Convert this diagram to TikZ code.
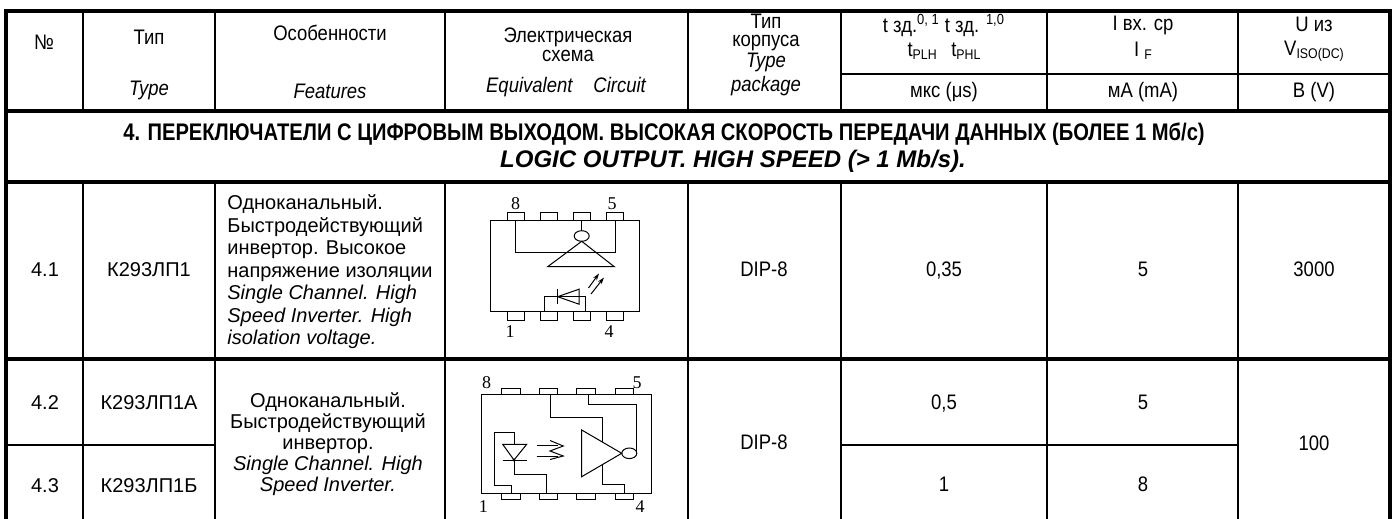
\documentclass[tikz,border=0pt]{standalone}
\usepackage{fontspec}
\setmainfont{Liberation Sans}
\newfontfamily\narrowfont{Liberation Sans}[FakeStretch=0.88]
\newfontfamily\titlefont{Liberation Sans}[FakeStretch=0.84]
\newfontfamily\pinfont{Liberation Serif}
\usetikzlibrary{arrows.meta}
\newcommand{\lsub}[1]{\raisebox{-0.3ex}{\fontsize{7}{7}\selectfont #1}}

\begin{document}
\begin{tikzpicture}[x=0.5pt,y=-0.5pt,>={Stealth[length=3.5pt,width=2.2pt]}]
  \tikzstyle{thin rule}=[line width=0.9pt]
  \tikzstyle{thick rule}=[line width=1.8pt]
  \tikzstyle{cell}=[inner sep=0pt,font=\fontsize{10}{10}\selectfont]
  \tikzstyle{head}=[inner sep=0pt,font=\narrowfont\fontsize{10.5}{10.5}\selectfont]
  \tikzstyle{wire}=[line width=0.5pt]
  \tikzstyle{pin label}=[inner sep=0pt,font=\pinfont\fontsize{9}{9}\selectfont]
  \useasboundingbox (0,0) rectangle (1394,519);

  % Grid
  \foreach \cx in {83,215,445,688,841,1047,1238} {
    \draw[thin rule] (\cx,11) -- (\cx,111);
    \draw[thin rule] (\cx,182) -- (\cx,519);
  }
  \draw[thin rule] (841,74) -- (1390,74);
  \draw[thin rule] (6,445) -- (215,445);
  \draw[thin rule] (841,445) -- (1238,445);
  \foreach \ry in {111,182,359}
    \draw[thick rule] (6,\ry) -- (1390,\ry);
  \draw[thick rule] (6,519) -- (6,11) -- (1390,11) -- (1390,519);

  % Header
  \node[head] (hNo) at (44,42) {№};
  \node[head] (hType) at (149,37) {Тип};
  \node[head] (hTypeEn) at (149,90) {\itshape Type};
  \node[head] (hFeat) at (330,33) {Особенности};
  \node[head] (hFeatEn) at (330,91) {\itshape Features};
  \node[head] (hCirc) at (568,37) {Электрическая};
  \node[head] (hCircB) at (568,56) {схема};
  \node[head] (hCircEn) at (566,87) {\itshape Equivalent\quad Circuit};
  \node[head,anchor=base] (hPkg) at (766,29) {Тип};
  \node[head,anchor=base] (hPkgB) at (766,47) {корпуса};
  \node[head,anchor=base] (hPkgEn) at (766,68) {\itshape Type};
  \node[head,anchor=base] (hPkgEnB) at (766,92) {\itshape package};
  \node[head] (hDelay) at (944,25) {t зд.\textsuperscript{0, 1} t зд. \textsuperscript{1,0}};
  \node[head] (hDelayEn) at (944,51) {t\lsub{PLH}\hspace{0.7em}t\lsub{PHL}};
  \node[head] (hDelayU) at (944,92) {мкс (μs)};
  \node[head] (hCur) at (1143,25) {I вх. ср};
  \node[head] (hCurEn) at (1143,51) {I \lsub{F}};
  \node[head] (hCurU) at (1143,92) {мА (mA)};
  \node[head] (hIso) at (1314,24) {U из};
  \node[head] (hIsoEn) at (1314,51) {V\lsub{ISO(DC)}};
  \node[head] (hIsoU) at (1314,92) {В (V)};

  % Section
  \node[head,font=\titlefont\fontsize{12}{12}\selectfont\bfseries] (secRu) at (664,134)
    {4. ПЕРЕКЛЮЧАТЕЛИ С ЦИФРОВЫМ ВЫХОДОМ. ВЫСОКАЯ СКОРОСТЬ ПЕРЕДАЧИ ДАННЫХ (БОЛЕЕ 1 Мб/с)};
  \node[head,font=\fontsize{12}{12}\selectfont\bfseries\itshape] (secEn) at (733,161)
    {LOGIC OUTPUT. HIGH SPEED (> 1 Mb/s).};

  % Row 4.1
  \node[cell,anchor=base] (n41) at (45,277) {4.1};
  \node[cell,anchor=base] (t41) at (149,277) {К293ЛП1};
  \node[cell,anchor=west,align=left,font=\fontsize{10}{11.25}\selectfont] (f41) at (227,272)
    {Одноканальный.\\Быстродействующий\\инвертор. Высокое\\напряжение изоляции\\
     \itshape Single Channel. High\\\itshape Speed Inverter. High\\\itshape isolation voltage.};
  \node[head,anchor=base] (k41) at (764,277) {DIP-8};
  \node[head,anchor=base] (d41) at (944,277) {0,35};
  \node[head,anchor=base] (i41) at (1143,277) {5};
  \node[head,anchor=base] (u41) at (1314,277) {3000};

  % Rows 4.2 and 4.3
  \node[cell,anchor=base] (n42) at (45,409) {4.2};
  \node[cell,anchor=base] (t42) at (149,409) {К293ЛП1А};
  \node[cell,anchor=base] (n43) at (45,492) {4.3};
  \node[cell,anchor=base] (t43) at (149,492) {К293ЛП1Б};
  \node[cell,align=center,font=\fontsize{10}{10.5}\selectfont] (f42) at (328,444)
    {Одноканальный.\\Быстродействующий\\инвертор.\\
     \itshape Single Channel. High\\\itshape Speed Inverter.};
  \node[head,anchor=base] (k42) at (764,449) {DIP-8};
  \node[head,anchor=base] (d42) at (944,409) {0,5};
  \node[head,anchor=base] (i42) at (1143,409) {5};
  \node[head,anchor=base] (d43) at (944,491) {1};
  \node[head,anchor=base] (i43) at (1143,491) {8};
  \node[head,anchor=base] (u42) at (1314,450) {100};

  % Circuit 4.1
  \draw[wire] (490.7,221) rectangle (639,311);
  \foreach \px in {515.7,548.7,581.7,614.7} {
    \draw[wire] ({\px-8.3},213) rectangle ({\px+8.3},221);
    \draw[wire] ({\px-8.3},311) rectangle ({\px+8.3},320);
  }
  \node[pin label] (a8) at (515.7,204) {8};
  \node[pin label] (a5) at (612,204) {5};
  \node[pin label] (a1) at (510,332) {1};
  \node[pin label] (a4) at (609,332) {4};
  \draw[wire] (515.7,221) -- (515.7,252.7) -- (615,252.7) -- (615,221);
  \draw[wire] (581.7,221) -- (581.7,230.7);
  \draw[wire] (581.7,236) ellipse [x radius=7.5,y radius=5.3];
  \draw[wire] (581.7,241.3) -- (547.7,266.7) -- (614.3,266.7) -- cycle;
  \draw[wire] (544.3,311) -- (544.3,296.7) -- (585.7,296.7) -- (585.7,311);
  \draw[wire] (579,289.2) -- (579,304.2) -- (557.7,296.7) -- cycle;
  \draw[wire] (557.7,289.2) -- (557.7,304.2);
  \draw[wire,->] (588.5,288) -- (599,273.5);
  \draw[wire,->] (591,294) -- (604,277.5);

  % Circuit 4.2 / 4.3
  \draw[wire] (481,394) rectangle (651.7,493.3);
  \foreach \px in {510.8,548.2,585.8,624.2} {
    \draw[wire] ({\px-9.2},388.3) rectangle ({\px+9.2},394);
    \draw[wire] ({\px-9.2},493.3) rectangle ({\px+9.2},499.3);
  }
  \node[pin label] (b8) at (486.7,383) {8};
  \node[pin label] (b5) at (637,383) {5};
  \node[pin label] (b1) at (483.3,507) {1};
  \node[pin label] (b4) at (640,507) {4};
  \draw[wire] (550,394) -- (550,417.3) -- (602.7,417.3) -- (602.7,442.2);
  \draw[wire] (581.7,430) -- (621.7,453.3) -- (581.7,476.7) -- cycle;
  \draw[wire] (629.3,453.3) ellipse [x radius=7.5,y radius=5.3];
  \draw[wire] (636.8,453.3) -- (636.8,404) -- (588.3,404) -- (588.3,394);
  \draw[wire] (602.7,464.5) -- (602.7,484) -- (624,484) -- (624,493.3);
  \draw[wire] (514,444.3) -- (514,432.3) -- (494.3,432.3) -- (494.3,485)
    -- (511.7,485) -- (511.7,493.3);
  \draw[wire] (502.7,444.3) -- (526.7,444.3) -- (514,460) -- cycle;
  \draw[wire] (502.7,460) -- (526.7,460);
  \fill (514,460) circle [radius=1.6];
  \draw[wire] (514,460) -- (514,474.3) -- (546,474.3) -- (546,493.3);
  \draw[wire] (536.7,445.5) -- (558,445.5);
  \draw[wire] (536.7,456) -- (558,456);
  \draw[wire] (550,440.5) -- (563.3,446) -- (550,451) -- (563.3,456) -- (550,459.5);
\end{tikzpicture}
\end{document}
